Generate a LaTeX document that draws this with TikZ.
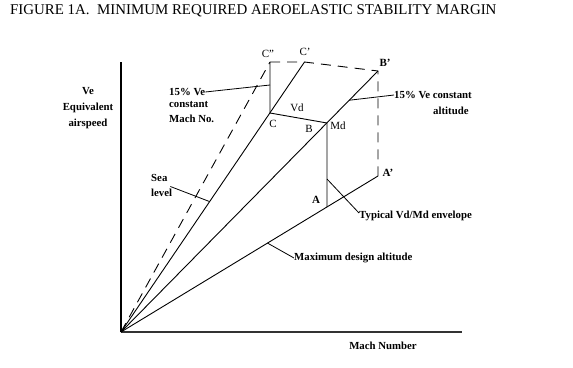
\documentclass[tikz,border=0pt]{standalone}
\usepackage{fontspec}
\setmainfont{Liberation Serif}
\usetikzlibrary{positioning,calc}

\begin{document}
\begin{tikzpicture}[
  x=1pt, y=-1pt,
  xaxis/.style   = {line width=2.2pt, draw=black!80},
  yaxis/.style   = {line width=1.3pt},
  curve/.style   = {line width=0.9pt},
  margin/.style  = {line width=0.9pt, dash pattern=on 10pt off 7pt},
  leader/.style  = {line width=0.8pt},
  tag/.style     = {font=\fontsize{11}{13}\selectfont, inner sep=0pt},
  callout/.style = {font=\bfseries\fontsize{10.8}{15}\selectfont,
                    inner sep=0pt, align=left},
]
\useasboundingbox (0,0) rectangle (573,367);

% ===== Title =====
\node[anchor=west, inner sep=0pt, font=\fontsize{14.9}{16}\selectfont]
      (title) at (10,11)
      {FIGURE 1A.\ \ MINIMUM REQUIRED AEROELASTIC STABILITY MARGIN};

% ===== Axes =====
\coordinate (O)    at (121,332);
\coordinate (ytop) at (121,62);
\coordinate (xend) at (462,332);
\draw[yaxis] (ytop) -- (O);
\draw[xaxis] (O) -- (xend);
\node[callout, align=center, font=\bfseries\fontsize{10.8}{16}\selectfont]
      (ylab) at (88,108) {Ve\\Equivalent\\airspeed};
\node[callout] (xlab) at (383,346) {Mach Number};

% ===== Envelope corners =====
\coordinate (C)   at (270,113);
\coordinate (Cpp) at (270,62);
\coordinate (Cp)  at (304.5,62);
\coordinate (B)   at (327,123);
\coordinate (Bp)  at (378,71);
\coordinate (A)   at (327,207);
\coordinate (Ap)  at (378,176);

% rays from the origin
\draw[curve]  (O) -- (Cp);
\draw[curve]  (O) -- (Bp);
\draw[curve]  (O) -- (Ap);
\draw[margin] (O) -- (Cpp);

% Vd/Md envelope and the 15% margin
\draw[curve]  (Cpp) -- (C) -- (B) -- (A);
\draw[margin] (Cpp) -- (Cp) -- (Bp) -- (Ap);

% ===== Point labels =====
\node[tag] (tCpp) at (268,54)  {C"};
\node[tag] (tCp)  at (305,52)  {C'};
\node[tag, font=\bfseries\fontsize{11}{13}\selectfont] (tBp) at (385,63) {B'};
\node[tag] (tC)   at (273,124) {C};
\node[tag] (tB)   at (309,129) {B};
\node[tag] (tMd)  at (338,126) {Md};
\node[tag] (tVd)  at (297,108) {Vd};
\node[tag, font=\bfseries\fontsize{11}{13}\selectfont] (tA)  at (316,200) {A};
\node[tag, font=\bfseries\fontsize{11}{13}\selectfont] (tAp) at (388,173) {A'};

% ===== Callouts with leader lines =====
\node[callout, anchor=west] (machA) at (169,92)  {15\% Ve};
\node[callout, anchor=north west] (machB) at (169,101) {constant\\Mach No.};
\draw[leader] (machA.east) -- (270,85);

\node[callout, anchor=west] (altA) at (394,95)  {15\% Ve constant};
\node[callout, anchor=west] (altB) at (433,111) {altitude};
\draw[leader] (altA.west) -- ($(O)!0.888!(Bp)$);

\node[callout, anchor=west] (sea) at (151,185.5) {Sea\\level};
\draw[leader] ($(sea.east)+(-2,1)$) -- ($(O)!0.483!(Cp)$);

\node[callout, anchor=west] (typ) at (359,216) {Typical Vd/Md envelope};
\draw[leader] ($(typ.west)+(0,-3)$) -- ($(B)!0.667!(A)$);

\node[callout, anchor=west] (maxalt) at (294,258) {Maximum design altitude};
\draw[leader] (maxalt.west) -- ($(O)!0.57!(Ap)$);

\end{tikzpicture}
\end{document}
